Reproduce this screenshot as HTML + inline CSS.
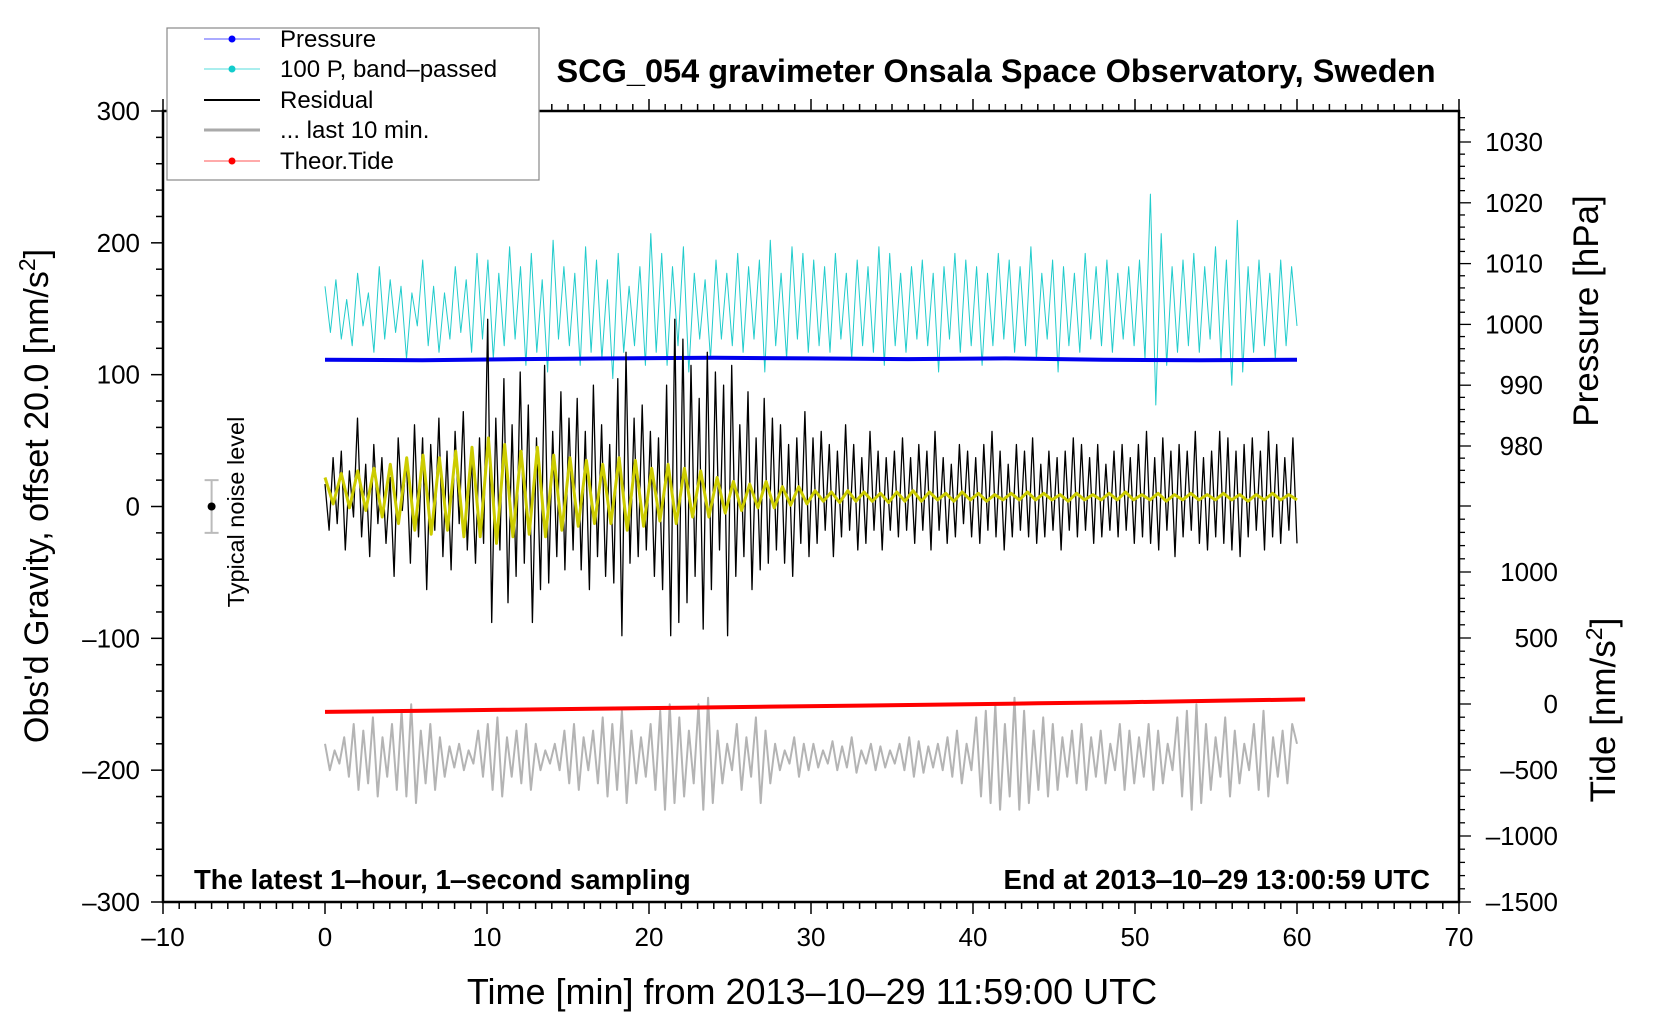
<!DOCTYPE html>
<html><head><meta charset="utf-8">
<style>
html,body{margin:0;padding:0;background:#fff;}
svg{display:block;font-family:"Liberation Sans",Arial,sans-serif;}
</style></head>
<body>
<svg id="chart" width="1660" height="1020" viewBox="0 0 1660 1020" xmlns="http://www.w3.org/2000/svg">
<rect x="0" y="0" width="1660" height="1020" fill="#fff"/>
<g id="marks"></g>
<g id="axes"></g>
<text x="996" y="82" font-size="32.5" font-weight="bold" text-anchor="middle">SCG_054 gravimeter Onsala Space Observatory, Sweden</text>
<text x="194" y="889" font-size="27.5" font-weight="bold">The latest 1‒hour, 1‒second sampling</text>
<text x="1430" y="889" font-size="27.5" font-weight="bold" text-anchor="end">End at 2013‒10‒29 13:00:59 UTC</text>
<text x="812" y="1004" font-size="36" text-anchor="middle">Time [min] from 2013‒10‒29 11:59:00 UTC</text>
<text transform="translate(48,496) rotate(-90)" font-size="34" text-anchor="middle">Obs'd Gravity, offset 20.0 [nm/s<tspan baseline-shift="super" font-size="23">2</tspan>]</text>
<text transform="translate(1598,311) rotate(-90)" font-size="35" text-anchor="middle">Pressure [hPa]</text>
<text transform="translate(1615,710) rotate(-90)" font-size="35" text-anchor="middle">Tide [nm/s<tspan baseline-shift="super" font-size="23">2</tspan>]</text>
<text transform="translate(244,512) rotate(-90)" font-size="23.5" text-anchor="middle">Typical noise level</text>
<g>
<rect x="167" y="28" width="372" height="152" fill="#fff" stroke="#888" stroke-width="1.2"/>
<g><line x1="204" y1="39" x2="260" y2="39" stroke="#55f" stroke-width="1"/><circle cx="232" cy="39" r="3.5" fill="#00f"/><text x="280" y="47" font-size="24">Pressure</text></g>
<g><line x1="204" y1="69" x2="260" y2="69" stroke="#5dd" stroke-width="1"/><circle cx="232" cy="69" r="3.5" fill="#1cc"/><text x="280" y="77" font-size="24">100 P, band‒passed</text></g>
<g><line x1="204" y1="100" x2="260" y2="100" stroke="#000" stroke-width="2"/><text x="280" y="108" font-size="24">Residual</text></g>
<g><line x1="204" y1="130" x2="260" y2="130" stroke="#aaa" stroke-width="3"/><text x="280" y="138" font-size="24">... last 10 min.</text></g>
<g><line x1="204" y1="161" x2="260" y2="161" stroke="#f55" stroke-width="1"/><circle cx="232" cy="161" r="3.5" fill="#f00"/><text x="280" y="169" font-size="24">Theor.Tide</text></g>
</g>
</svg>
<script>
// ---- data ----
const xTicks = [-10,0,10,20,30,40,50,60,70];
const yTicks = [-300,-200,-100,0,100,200,300];
const pressureTicks = [980,990,1000,1010,1020,1030];
const tideTicks = [-1500,-1000,-500,0,500,1000];
const RESID_CENTER = 7;
const residual = [10,-25,30,-20,35,-40,20,-15,60,-30,25,-45,40,-20,30,-35,15,-60,45,-10,
30,-50,55,-30,45,-70,40,-25,60,-45,35,-55,50,-20,65,-40,30,-50,45,-35,
135,-95,60,-40,90,-80,55,-60,95,-50,70,-95,45,-70,100,-65,50,-45,80,-55,
60,-40,75,-55,50,-70,85,-45,55,-60,40,-65,90,-105,110,-50,60,-45,70,-40,
50,-60,45,-70,85,-105,135,-95,120,-80,100,-60,75,-100,110,-70,95,-40,85,-105,
100,-60,55,-45,80,-70,45,-55,75,-50,60,-40,55,-50,40,-60,45,-35,65,-45,
45,-35,50,-25,40,-45,35,-30,55,-25,40,-40,30,-35,50,-25,35,-40,30,-25,
35,-30,45,-25,30,-35,40,-25,35,-40,50,-25,30,-35,25,-30,40,-20,35,-30,
30,-35,40,-25,50,-30,35,-40,25,-30,40,-25,35,-30,45,-35,25,-30,35,-25,
30,-40,35,-25,45,-30,40,-25,30,-35,40,-30,25,-25,35,-30,40,-25,30,-35,
40,-30,50,-35,30,-40,45,-25,35,-45,40,-30,35,-25,50,-35,30,-40,35,-30,
50,-35,45,-40,35,-45,40,-30,45,-25,35,-40,50,-30,40,-35,30,-25,45,-35];
const smoothed = [15,-5,18,-8,20,-10,22,-15,25,-20,
30,-25,32,-28,30,-25,35,-30,38,-30,
45,-35,40,-30,35,-28,38,-30,32,-25,
30,-22,28,-20,25,-20,30,-25,28,-22,
22,-18,25,-20,22,-15,20,-15,15,-12,
12,-10,10,-8,12,-8,8,-6,8,-5,
5,-3,4,-4,5,-3,4,-3,3,-4,4,-3,5,-3,4,-2,3,-3,4,-2,3,-3,2,-2,3,-2,4,-2,3,-2,
2,-3,3,-2,2,-2,3,-2,4,-2,2,-2,3,-3,2,-2,3,-2,2,-2,3,-2,2,-3,2,-2,3,-2,2,-2];
const BAND_CENTER = 147;
const bandPassed = [20,-15,25,-20,10,-25,30,-10,15,-30,35,-20,25,-15,20,-35,15,-10,40,-25,20,-30,15,-20,35,-15,25,-30,45,-20,
40,-35,30,-25,50,-20,35,-40,45,-30,25,-45,55,-20,35,-25,30,-40,50,-30,40,-35,25,-50,45,-30,20,-25,35,-40,
60,-30,45,-40,35,-25,50,-45,30,-20,25,-35,40,-20,30,-25,45,-30,35,-20,40,-45,55,-25,30,-35,50,-20,45,-30,
40,-25,35,-30,45,-20,30,-35,40,-25,35,-30,50,-40,45,-25,30,-30,35,-20,40,-25,30,-45,35,-20,45,-30,40,-25,
35,-40,30,-25,45,-20,40,-30,35,-25,50,-35,30,-20,40,-45,35,-25,30,-30,45,-20,35,-25,40,-30,30,-20,35,-25,
40,-35,90,-70,60,-40,35,-30,40,-25,45,-30,35,-20,50,-35,40,-55,70,-45,35,-30,40,-25,30,-35,40,-25,35,-10];
const GRAY_CENTER = -190;
const last10 = [10,-10,5,-5,15,-15,25,-25,20,-20,30,-30,15,-15,25,-25,35,-30,40,-35,20,-20,25,-25,15,-15,8,-8,10,-10,5,-5,20,-15,
25,-25,30,-30,15,-15,20,-20,25,-25,10,-10,5,-5,10,-10,20,-20,25,-25,15,-10,20,-20,30,-30,25,-25,35,-35,20,-20,15,-15,
25,-25,35,-40,40,-35,30,-30,20,-20,40,-40,45,-35,20,-20,10,-10,25,-25,15,-15,30,-35,20,-20,10,-10,5,-5,15,-15,10,-10,
10,-8,5,-5,12,-10,8,-8,15,-12,5,-5,10,-10,8,-8,5,-5,10,-10,15,-15,12,-12,8,-8,10,-10,15,-15,20,-20,10,-10,
30,-30,35,-35,40,-40,25,-30,45,-40,35,-35,20,-25,30,-30,25,-25,15,-15,20,-20,25,-25,15,-15,20,-20,10,-10,25,-25,20,-20,
15,-15,25,-25,20,-20,10,-10,30,-30,35,-40,40,-35,25,-25,15,-15,30,-30,20,-20,10,-10,25,-25,35,-30,15,-15,20,-20,25,10];
const pressure = [994.2,994.1,994.3,994.4,994.5,994.4,994.3,994.4,994.2,994.1,994.2];
const tide = [-60,-52,-44,-36,-28,-20,-12,-4,5,14,24,35];

// ---- axis functions ----
const L=163,R=1459,T=111,B=902;
const sx = m => L + (m+10)*(R-L)/80;
const sy = v => B - (v+300)*(B-T)/600;
const sp = p => 446 - (p-980)*6.08;
const st = t => 704 - t*0.132;
const NS='http://www.w3.org/2000/svg';
function mk(tag, attrs, parent){const e=document.createElementNS(NS,tag);for(const k in attrs)e.setAttribute(k,attrs[k]);parent.appendChild(e);return e;}
const marks=document.getElementById('marks'), axes=document.getElementById('axes');

function series(vals, t0, t1, scaleY, center, color, width, name){
  const n=vals.length;
  let d='';
  vals.forEach((v,i)=>{const x=sx(t0+(t1-t0)*i/(n-1));const y=scaleY(v+center);d+=(i?'L':'M')+x.toFixed(1)+' '+y.toFixed(1);});
  const p=mk('path',{d:d,fill:'none',stroke:color,'stroke-width':width,'stroke-linejoin':'round'},marks);
  
  
  return p;
}
series(bandPassed,0,60,sy,BAND_CENTER,'#22cccc',1,'band-passed-pressure-line');
series(pressure,0,60,sp,0,'#0000ee',4,'pressure-line');
series(residual,0,60,sy,RESID_CENTER,'#000',1.3,'residual-line');
series(smoothed,0,60,sy,RESID_CENTER,'#cccc00',3,'residual-smoothed-line');
series(last10,0,60,sy,GRAY_CENTER,'#b4b4b4',2,'last-10-min-line');
series(tide,0,60.5,st,0,'#ff0000',4,'theor-tide-line');

// noise bar
const nb=mk('g',{},marks);


mk('line',{x1:sx(-7),x2:sx(-7),y1:sy(20),y2:sy(-20),stroke:'#bbb','stroke-width':2},nb);
mk('line',{x1:sx(-7)-7,x2:sx(-7)+7,y1:sy(20),y2:sy(20),stroke:'#bbb','stroke-width':2},nb);
mk('line',{x1:sx(-7)-7,x2:sx(-7)+7,y1:sy(-20),y2:sy(-20),stroke:'#bbb','stroke-width':2},nb);
mk('circle',{cx:sx(-7),cy:sy(0),r:4,fill:'#000'},nb);

// frame
const fr=mk('rect',{x:L,y:T,width:R-L,height:B-T,fill:'none',stroke:'#000','stroke-width':2.5},axes);


// x ticks
for(let m=-10;m<=70;m++){const maj=m%10===0;const x=sx(m);
  mk('line',{x1:x,x2:x,y1:B,y2:B+(maj?12:7),stroke:'#000','stroke-width':1.5},axes);
  mk('line',{x1:x,x2:x,y1:T,y2:T-(maj?12:7),stroke:'#000','stroke-width':1.5},axes);}
xTicks.forEach(m=>{const t=mk('text',{x:sx(m),y:946,'font-size':26,'text-anchor':'middle'},axes);t.textContent=String(m).replace('-','\u2013');
  
  });
// left y ticks
for(let v=-300;v<=300;v+=20){const maj=v%100===0;const y=sy(v);mk('line',{x1:L,x2:L-(maj?12:7),y1:y,y2:y,stroke:'#000','stroke-width':1.5},axes);}
yTicks.forEach(v=>{const t=mk('text',{x:140,y:sy(v)+9,'font-size':26,'text-anchor':'end'},axes);t.textContent=String(v).replace('-','\u2013');
  
  });
// pressure ticks
for(let p=974;p<=1034;p+=2){const maj=p%10===0;const y=sp(p);mk('line',{x1:R,x2:R+(maj?12:6),y1:y,y2:y,stroke:'#000','stroke-width':1.3},axes);}
pressureTicks.forEach(p=>{const t=mk('text',{x:1543,y:sp(p)+9,'font-size':26,'text-anchor':'end'},axes);t.textContent=p;
  
  });
// tide ticks
for(let v=-1500;v<=1500;v+=100){const maj=v%500===0;const y=st(v);mk('line',{x1:R,x2:R+(maj?12:6),y1:y,y2:y,stroke:'#000','stroke-width':1.3},axes);}
tideTicks.forEach(v=>{const t=mk('text',{x:1558,y:st(v)+9,'font-size':26,'text-anchor':'end'},axes);t.textContent=String(v).replace('-','\u2013');
  
  });
</script>
</body></html>
